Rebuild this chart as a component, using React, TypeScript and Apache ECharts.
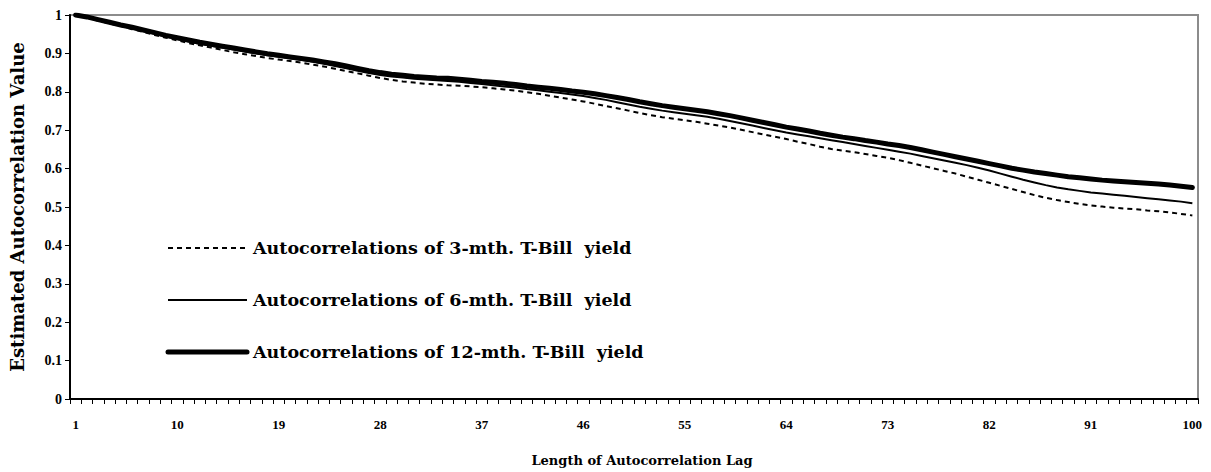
import React, { useEffect, useRef } from "react";
import * as echarts from "echarts";

// Lags 1..100
const lags: string[] = Array.from({ length: 100 }, (_, i) => String(i + 1));

// Estimated autocorrelations of the 3-month T-Bill yield
const tb3: number[] = [
  1.0, 0.993, 0.985, 0.978, 0.971, 0.963, 0.956, 0.948, 0.941, 0.934,
  0.927, 0.921, 0.915, 0.909, 0.903, 0.898, 0.893, 0.888, 0.884, 0.88,
  0.876, 0.871, 0.866, 0.86, 0.854, 0.848, 0.842, 0.836, 0.831, 0.827,
  0.824, 0.821, 0.819, 0.817, 0.816, 0.814, 0.812, 0.809, 0.806, 0.803,
  0.799, 0.795, 0.79, 0.785, 0.78, 0.775, 0.769, 0.763, 0.757, 0.751,
  0.745, 0.739, 0.734, 0.73, 0.726, 0.722, 0.717, 0.712, 0.707, 0.701,
  0.695, 0.689, 0.683, 0.677, 0.67, 0.664, 0.657, 0.651, 0.647, 0.643,
  0.638, 0.633, 0.628, 0.622, 0.615, 0.608, 0.601, 0.594, 0.587, 0.579,
  0.571, 0.563, 0.555, 0.547, 0.539, 0.531, 0.524, 0.518, 0.513, 0.508,
  0.504, 0.501, 0.498, 0.496, 0.494, 0.491, 0.489, 0.486, 0.482, 0.478,
];

// Estimated autocorrelations of the 6-month T-Bill yield
const tb6: number[] = [
  1.0, 0.994, 0.987, 0.979, 0.972, 0.965, 0.958, 0.951, 0.944, 0.937,
  0.931, 0.925, 0.92, 0.915, 0.91, 0.905, 0.9, 0.895, 0.891, 0.887,
  0.883, 0.878, 0.873, 0.867, 0.861, 0.855, 0.849, 0.844, 0.84, 0.837,
  0.834, 0.832, 0.83, 0.828, 0.826, 0.823, 0.82, 0.817, 0.814, 0.811,
  0.807, 0.804, 0.8, 0.797, 0.793, 0.789, 0.784, 0.779, 0.773, 0.767,
  0.761, 0.756, 0.751, 0.747, 0.743, 0.739, 0.735, 0.73, 0.724, 0.718,
  0.712, 0.706, 0.7, 0.694, 0.689, 0.684, 0.679, 0.674, 0.669, 0.664,
  0.659, 0.654, 0.649, 0.644, 0.639, 0.633, 0.627, 0.621, 0.615, 0.609,
  0.602, 0.595, 0.587, 0.579, 0.571, 0.564, 0.557, 0.551, 0.546, 0.542,
  0.538, 0.535, 0.532, 0.529, 0.526, 0.523, 0.52, 0.517, 0.514, 0.51,
];

// Estimated autocorrelations of the 12-month T-Bill yield
const tb12: number[] = [
  1.0, 0.995, 0.988, 0.981, 0.974, 0.968, 0.961, 0.954, 0.947, 0.941,
  0.935, 0.929, 0.924, 0.919, 0.914, 0.909, 0.904, 0.899, 0.895, 0.891,
  0.887, 0.883, 0.878, 0.873, 0.867, 0.861, 0.855, 0.85, 0.846, 0.843,
  0.84, 0.838, 0.836, 0.835, 0.833, 0.83, 0.827, 0.825, 0.822, 0.819,
  0.815, 0.812, 0.809, 0.806, 0.802, 0.799, 0.795, 0.79, 0.785, 0.78,
  0.774, 0.769, 0.764, 0.76, 0.756, 0.752, 0.748, 0.743, 0.738, 0.732,
  0.726, 0.72, 0.714, 0.708, 0.703, 0.698, 0.692, 0.687, 0.682, 0.678,
  0.673, 0.669, 0.664, 0.66, 0.655, 0.649, 0.643, 0.637, 0.631, 0.625,
  0.619, 0.613, 0.607, 0.601, 0.596, 0.591, 0.587, 0.583, 0.579, 0.576,
  0.573, 0.57, 0.568, 0.566, 0.564, 0.562, 0.56, 0.557, 0.554, 0.551,
];

const seriesNames: string[] = [
  "Autocorrelations of 3-mth. T-Bill  yield",
  "Autocorrelations of 6-mth. T-Bill  yield",
  "Autocorrelations of 12-mth. T-Bill  yield",
];

const TEXT_FONT = "'DejaVu Serif', 'Liberation Serif', serif";
const NUM_FONT = "'Liberation Serif', 'DejaVu Serif', serif";

export default function App() {
  const ref = useRef<HTMLDivElement>(null);

  useEffect(() => {
    if (!ref.current) return;
    const chart = echarts.init(ref.current, undefined, { renderer: "svg" });

    // Hand-drawn legend inside the plot area
    const legendX = 168;
    const legendLen = 79;
    const legendTextX = 253;
    const legendRows = [248, 300, 352];
    const legendStyles = [
      { stroke: "#000", lineWidth: 2, lineDash: [5, 4] },
      { stroke: "#000", lineWidth: 2 },
      { stroke: "#000", lineWidth: 5, lineCap: "round" },
    ];
    const legendGraphics: any[] = [];
    legendRows.forEach((y, i) => {
      legendGraphics.push({
        type: "line",
        shape: { x1: legendX, y1: y, x2: legendX + legendLen, y2: y },
        style: legendStyles[i],
        z: 10,
      });
      legendGraphics.push({
        type: "text",
        x: legendTextX,
        y,
        style: {
          text: seriesNames[i],
          font: `bold 17.5px ${TEXT_FONT}`,
          fill: "#000",
          verticalAlign: "middle",
          align: "left",
        },
        z: 10,
      });
    });

    chart.setOption({
      animation: false,
      backgroundColor: "#fff",
      textStyle: { fontFamily: TEXT_FONT },
      grid: {
        left: 68,
        right: 13,
        top: 15,
        bottom: 68,
        show: true,
        borderColor: "#8c8c8c",
        borderWidth: 2,
        backgroundColor: "transparent",
      },
      xAxis: {
        type: "category",
        data: lags,
        boundaryGap: true,
        name: "Length of Autocorrelation Lag",
        nameLocation: "middle",
        nameGap: 55,
        nameTextStyle: {
          fontFamily: TEXT_FONT,
          fontWeight: "bold",
          fontSize: 13,
          color: "#000",
          padding: [0, 0, 0, 16],
        },
        axisLine: { lineStyle: { color: "#000", width: 2 } },
        axisTick: { show: true, interval: 0, length: 5, lineStyle: { color: "#000", width: 1 } },
        axisLabel: {
          interval: 8,
          margin: 19,
          fontFamily: NUM_FONT,
          fontWeight: "bold",
          fontSize: 13,
          color: "#000",
        },
        splitLine: { show: false },
      },
      yAxis: {
        type: "value",
        min: 0,
        max: 1,
        interval: 0.1,
        name: "Estimated Autocorrelation Value",
        nameLocation: "middle",
        nameGap: 44,
        nameRotate: 90,
        nameTextStyle: { fontFamily: TEXT_FONT, fontWeight: "bold", fontSize: 18, color: "#000" },
        axisLine: { show: true, lineStyle: { color: "#000", width: 2 } },
        axisTick: { show: true, length: 5, lineStyle: { color: "#000", width: 1 } },
        axisLabel: {
          margin: 8,
          fontFamily: NUM_FONT,
          fontWeight: "bold",
          fontSize: 14,
          color: "#000",
        },
        splitLine: { show: false },
      },
      series: [
        {
          name: seriesNames[0],
          type: "line",
          data: tb3,
          symbol: "none",
          lineStyle: { color: "#000", width: 2, type: [5, 4] },
          z: 3,
        },
        {
          name: seriesNames[1],
          type: "line",
          data: tb6,
          symbol: "none",
          lineStyle: { color: "#000", width: 2 },
          z: 4,
        },
        {
          name: seriesNames[2],
          type: "line",
          data: tb12,
          symbol: "none",
          lineStyle: { color: "#000", width: 5, cap: "round", join: "round" },
          z: 2,
        },
      ],
      graphic: legendGraphics,
    });

    return () => chart.dispose();
  }, []);

  return (
    <div
      ref={ref}
      style={{ position: "fixed", left: 0, top: 0, width: 1211, height: 472, background: "#fff" }}
    />
  );
}
